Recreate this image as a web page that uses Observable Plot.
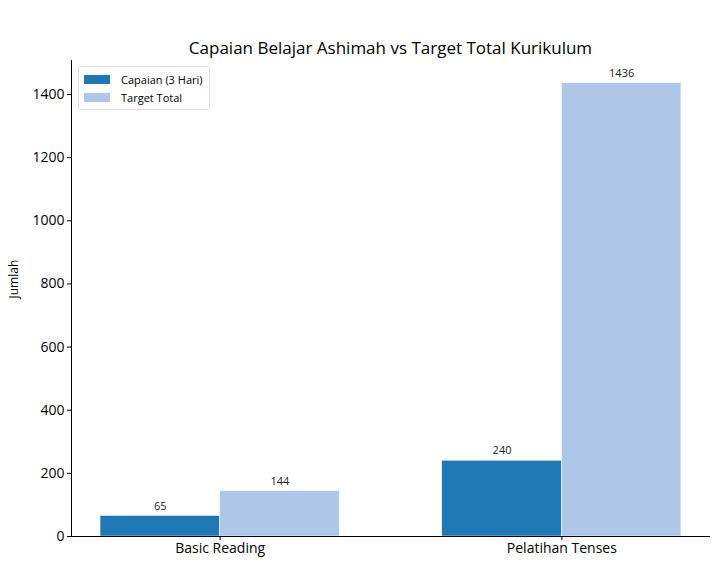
<!DOCTYPE html>
<html>
<head>
<meta charset="utf-8">
<script src="https://cdn.jsdelivr.net/npm/d3@7"></script>
<script src="https://cdn.jsdelivr.net/npm/@observablehq/plot@0.6"></script>
<style>
  body { margin: 0; background: #fff; font-family: "Open Sans", sans-serif; }
  #wrap { position: relative; width: 720px; height: 583px; }
  #title { height: 36px; position: relative; }
  #title span { position: absolute; left: 71px; right: 10px; top: 47px; transform: translateY(-50%); text-align: center; font-size: 17px; color: #000; white-space: nowrap; }
  #legend { position: absolute; left: 78px; top: 66px; border: 1px solid #ddd; border-radius: 3px; padding: 3px 6px 2px 5px; font-size: 11px; background: rgba(255,255,255,0.8); }
  #legend .row { display: flex; align-items: center; height: 18.5px; }
  #legend .sw { width: 26px; height: 9px; margin-right: 11px; }
</style>
</head>
<body>
<div id="wrap">
  <div id="title"><span>Capaian Belajar Ashimah vs Target Total Kurikulum</span></div>
  <div id="chart"></div>
  <div id="legend"></div>
</div>
<script>
const categories = ["Basic Reading", "Pelatihan Tenses"];
const series = ["Capaian (3 Hari)", "Target Total"];
const capaian = [65, 240];
const target = [144, 1436];
const colors = ["#1f77b4", "#aec7e8"];
const yTicks = [0, 200, 400, 600, 800, 1000, 1200, 1400];

const barWidth = 0.35;
const rows = [];
categories.forEach((c, i) => {
  rows.push({cat: c, i, s: series[0], v: capaian[i], x1: i - barWidth, x2: i});
  rows.push({cat: c, i, s: series[1], v: target[i], x1: i, x2: i + barWidth});
});

const span = categories.length - 1 + 2 * barWidth;
const xMin = -barWidth - 0.05 * span;
const xMax = categories.length - 1 + barWidth + 0.05 * span;
const yMax = d3.max(rows, d => d.v) * 1.05;
const catTicks = categories.map((c, i) => i);

const chart = Plot.plot({
  width: 720,
  height: 547,
  marginTop: 24,
  marginBottom: 47,
  marginLeft: 71,
  marginRight: 10,
  style: {fontFamily: "Open Sans, sans-serif", fontSize: "14px", color: "#000", background: "#fff"},
  x: {domain: [xMin, xMax], label: null},
  y: {domain: [0, yMax], label: null},
  color: {domain: series, range: colors},
  marks: [
    Plot.rectY(rows, {x1: "x1", x2: "x2", y1: 0, y2: "v", fill: "s", stroke: "#fff", strokeWidth: 0.5}),
    Plot.text(rows, {x: d => (d.x1 + d.x2) / 2, y: "v", text: d => String(d.v), dy: -10, fontSize: 11, fill: "#222"}),
    Plot.ruleY([0], {stroke: "#000", strokeWidth: 1}),
    Plot.ruleX([xMin], {stroke: "#000", strokeWidth: 1}),
    Plot.axisX({ticks: catTicks, tickFormat: i => categories[i], tickSize: 4, tickPadding: 3, fontSize: 14, label: null}),
    Plot.axisY({ticks: yTicks, tickFormat: d => String(d), tickSize: 4, tickPadding: 3, fontSize: 14, label: null}),
    Plot.text(["Jumlah"], {frameAnchor: "left", dx: -57, rotate: -90, fontSize: 12, fill: "#000"})
  ]
});
document.getElementById("chart").appendChild(chart);

const legend = document.getElementById("legend");
series.forEach((s, k) => {
  const row = document.createElement("div");
  row.className = "row";
  const sw = document.createElement("div");
  sw.className = "sw";
  sw.style.background = colors[k];
  const lab = document.createElement("span");
  lab.textContent = s;
  row.appendChild(sw);
  row.appendChild(lab);
  legend.appendChild(row);
});
</script>
</body>
</html>
